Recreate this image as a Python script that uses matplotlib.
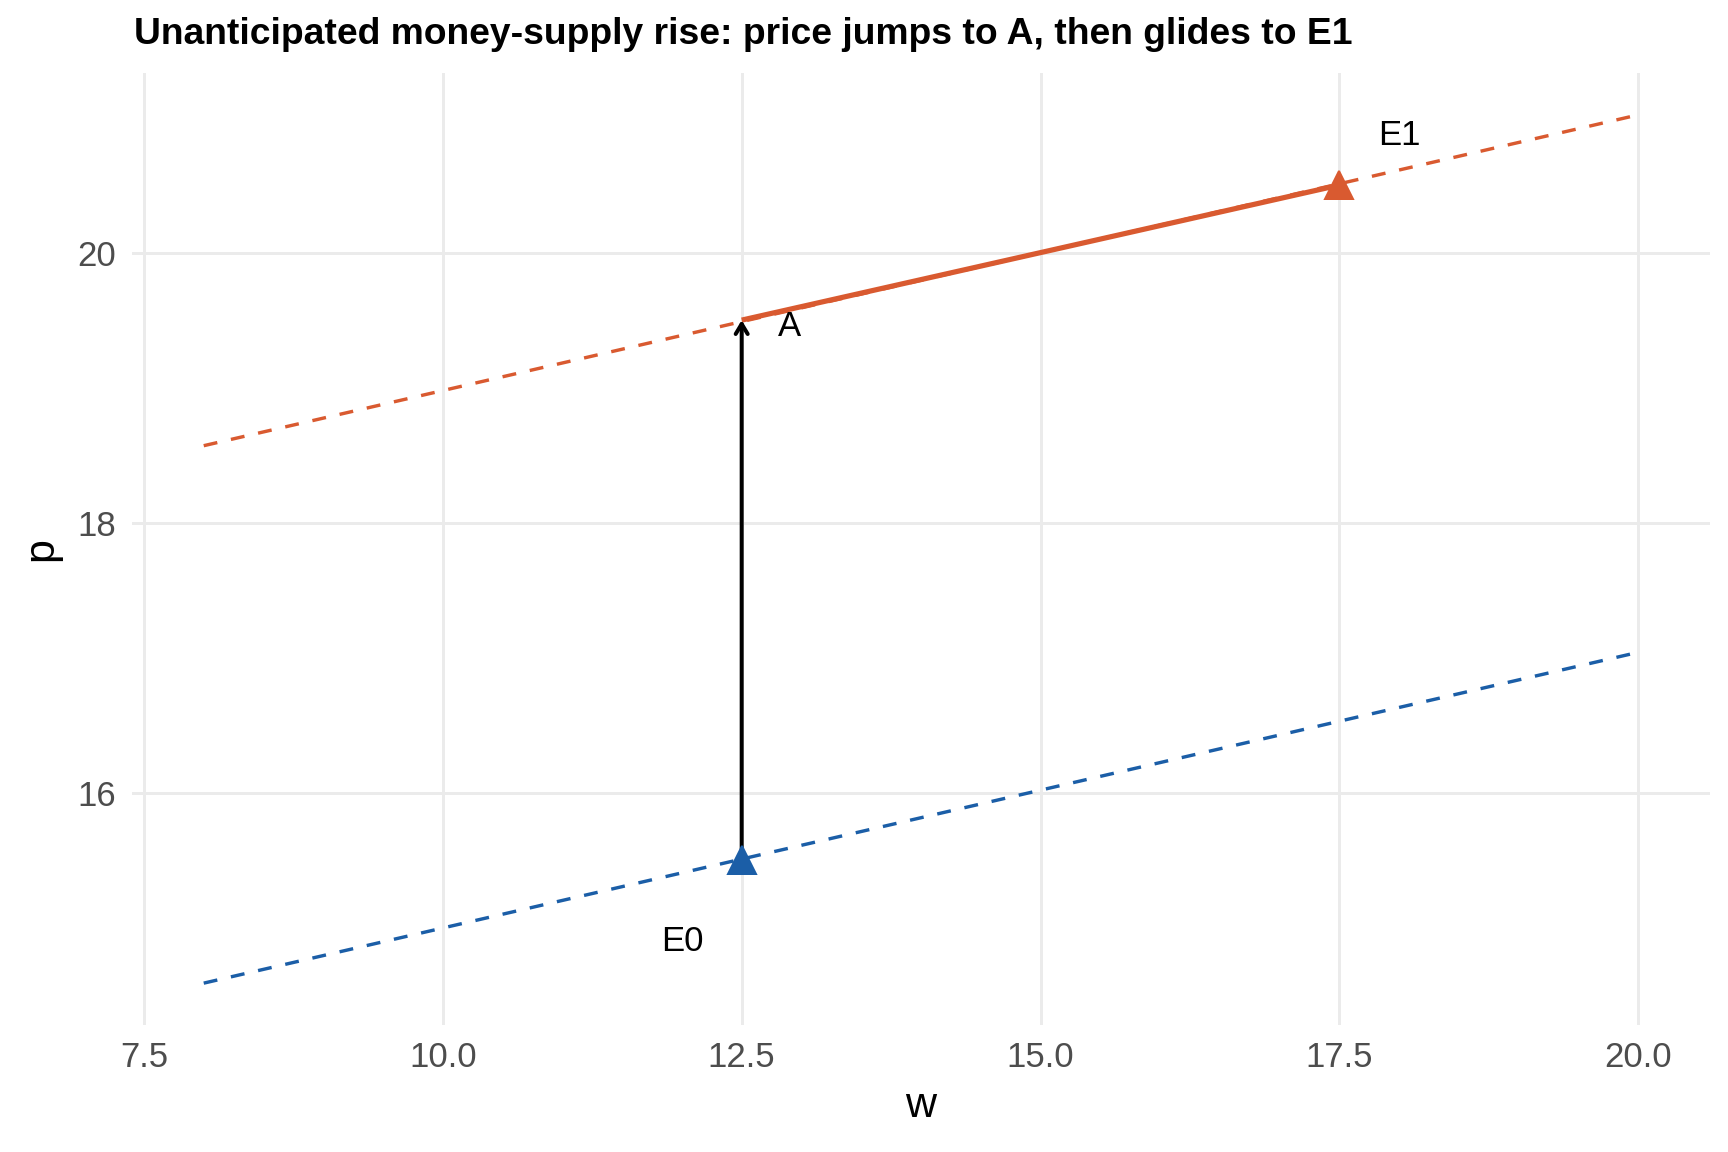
import matplotlib
matplotlib.use("Agg")
import matplotlib.pyplot as plt

# ---- data ----
w_line = [8.0, 20.0]
p_before = [14.59, 17.04]    # initial schedule (blue, dashed)
p_after = [18.57, 21.02]     # new schedule (red, dashed)

path_w = [12.5, 17.5]        # glide A -> E1
path_p = [19.5, 20.5]

jump_w = 12.5
jump_from = 15.5
jump_to = 19.5

e0_w, e0_p = 12.5, 15.5
e1_w, e1_p = 17.5, 20.5

label_text = ["E0", "A", "E1"]
label_w = [12.0, 12.9, 18.0]
label_p = [14.9, 19.45, 20.87]

x_ticks = [7.5, 10.0, 12.5, 15.0, 17.5, 20.0]
x_tick_labels = ["7.5", "10.0", "12.5", "15.0", "17.5", "20.0"]
y_ticks = [16, 18, 20]
y_tick_labels = ["16", "18", "20"]

title = "Unanticipated money-supply rise: price jumps to A, then glides to E1"

# ---- style ----
RED = "#D95A30"
BLUE = "#1B5EA7"
GRID = "#EBEBEB"
TICK = "#4D4D4D"

plt.rcParams['font.family'] = ['Liberation Sans', 'DejaVu Sans']

fig = plt.figure(figsize=(12, 8), dpi=144)
ax = fig.add_axes([132/1728, 1 - 1025/1152, (1710-132)/1728, (1025-73)/1152])

dash = (0, (4.1, 4.1))
ax.plot(w_line, p_before, color=BLUE, lw=1.7, linestyle=dash, zorder=3)
ax.plot(w_line, p_after, color=RED, lw=1.7, linestyle=dash, zorder=3)
ax.plot(path_w, path_p, color=RED, lw=2.6, solid_capstyle='butt', zorder=4)

ax.annotate("", xy=(jump_w, jump_to), xytext=(jump_w, jump_from),
            arrowprops=dict(arrowstyle="->,head_length=0.5,head_width=0.3",
                            color="black", lw=2.0, shrinkA=0, shrinkB=0),
            zorder=5)

ax.plot([e0_w], [e0_p], marker='^', markersize=14, color=BLUE, linestyle='none', zorder=6)
ax.plot([e1_w], [e1_p], marker='^', markersize=14, color=RED, linestyle='none', zorder=6)

for t, x, y in zip(label_text, label_w, label_p):
    ax.text(x, y, t, fontsize=17.4, ha='center', va='center', color='black', zorder=7)

ax.set_xlim(7.4, 20.6)
ax.set_ylim(14.28, 21.33)
ax.set_xticks(x_ticks)
ax.set_xticklabels(x_tick_labels)
ax.set_yticks(y_ticks)
ax.set_yticklabels(y_tick_labels)
ax.tick_params(axis='both', length=0, labelsize=17.4, labelcolor=TICK)
ax.tick_params(axis='x', pad=8)
ax.tick_params(axis='y', pad=8)

ax.grid(True, color=GRID, lw=1.5)
ax.set_axisbelow(True)
for s in ax.spines.values():
    s.set_visible(False)

ax.set_xlabel("w", fontsize=21.5, color='black', labelpad=6)
ax.set_ylabel("p", fontsize=21.5, color='black', labelpad=8)

fig.text(134/1728, 1 - 35/1152, title, fontsize=18.6, fontweight='bold',
         ha='left', va='center', color='black')

fig.savefig("out.png", dpi=144, facecolor='white')
